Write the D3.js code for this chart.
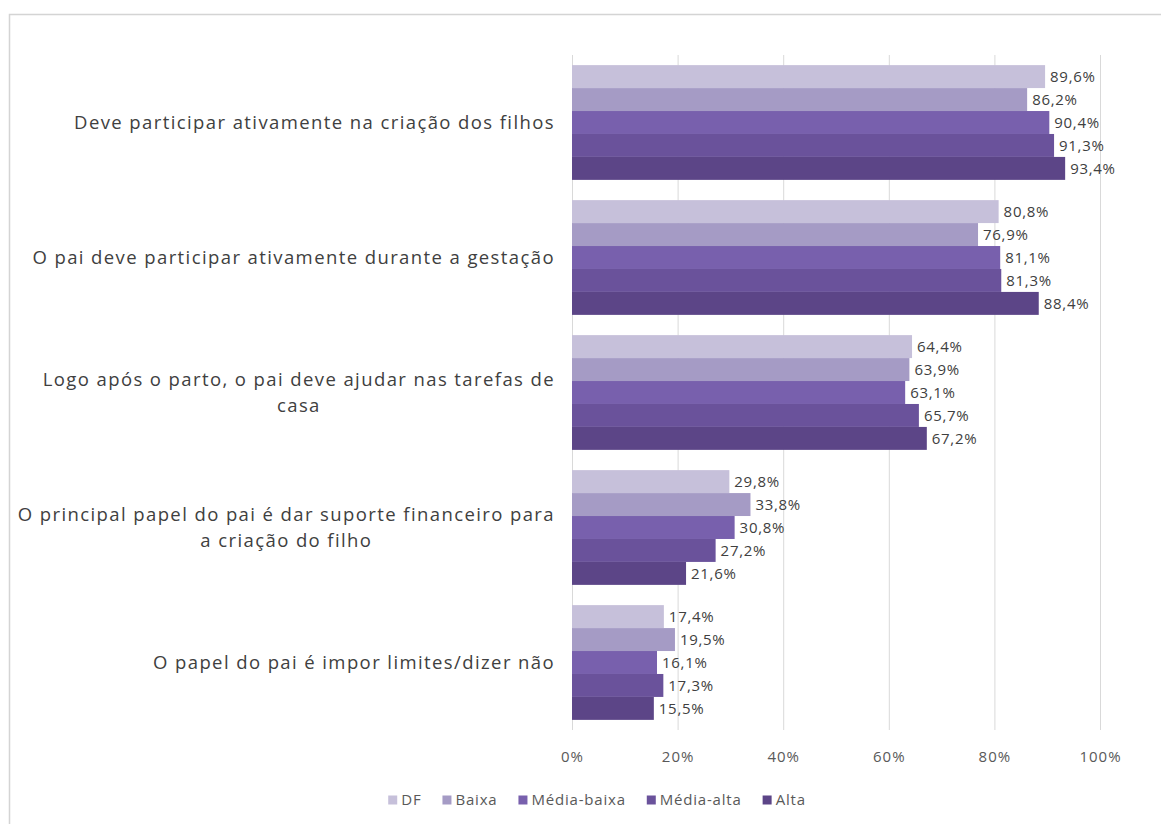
<!DOCTYPE html>
<html>
<head>
<meta charset="utf-8">
<script src="https://cdn.jsdelivr.net/npm/d3@7"></script>
<style>
  html, body { margin: 0; padding: 0; background: #fff; }
  svg { display: block; }
  text { font-family: "Open Sans", Lato, sans-serif; }
</style>
</head>
<body>
<svg id="chart" width="1161" height="824"></svg>
<script>
// Statements (line breaks mark where each label wraps)
const categories = [
  "Deve participar ativamente na criação dos filhos",
  "O pai deve participar ativamente durante a gestação",
  "Logo após o parto, o pai deve ajudar nas tarefas de\ncasa",
  "O principal papel do pai é dar suporte financeiro para\na criação do filho",
  "O papel do pai é impor limites/dizer não"
];

const seriesNames = ["DF", "Baixa", "Média-baixa", "Média-alta", "Alta"];

// Percent agreeing, one array per group, in category order
const valuesDF         = [89.6, 80.8, 64.4, 29.8, 17.4];
const valuesBaixa      = [86.2, 76.9, 63.9, 33.8, 19.5];
const valuesMediaBaixa = [90.4, 81.1, 63.1, 30.8, 16.1];
const valuesMediaAlta  = [91.3, 81.3, 65.7, 27.2, 17.3];
const valuesAlta       = [93.4, 88.4, 67.2, 21.6, 15.5];

const seriesValues = [valuesDF, valuesBaixa, valuesMediaBaixa, valuesMediaAlta, valuesAlta];
const colors = ["#c6c0da", "#a59bc5", "#7860ad", "#6a529b", "#5c4587"];

const xTicks = [0, 20, 40, 60, 80, 100];
const xTickLabels = ["0%", "20%", "40%", "60%", "80%", "100%"];

const svg = d3.select("#chart");

// Outer frame
svg.append("rect")
  .attr("x", 9.5).attr("y", 14.5)
  .attr("width", 1200).attr("height", 900)
  .attr("fill", "none")
  .attr("stroke", "#d4d4d4")
  .attr("stroke-width", 1.5);

const plot = { left: 572, right: 1100, top: 55, bottom: 730 };

const x = d3.scaleLinear().domain([0, 100]).range([plot.left, plot.right]);
const y = d3.scaleBand().domain(categories).range([plot.top, plot.bottom])
  .paddingInner(0.15).paddingOuter(0.075);
const ySub = d3.scaleBand().domain(seriesNames).range([0, y.bandwidth()]).padding(0);

// Vertical gridlines
svg.append("g").selectAll("line")
  .data(xTicks)
  .join("line")
  .attr("x1", d => x(d) + 0.5).attr("x2", d => x(d) + 0.5)
  .attr("y1", plot.top).attr("y2", plot.bottom)
  .attr("stroke", "#d9d9d9").attr("stroke-width", 1);

// X axis labels
const xAxis = d3.axisBottom(x).tickValues(xTicks)
  .tickFormat((d, i) => xTickLabels[i]).tickSize(0).tickPadding(0);
const xg = svg.append("g").attr("transform", `translate(0, ${plot.bottom + 21})`).call(xAxis);
xg.select(".domain").remove();
xg.selectAll("text")
  .attr("font-size", 15).attr("fill", "#595959")
  .attr("letter-spacing", 1.0)
  .attr("font-family", "'Open Sans', Lato, sans-serif");

// Category labels
const catG = svg.append("g");
categories.forEach(c => {
  const lines = c.split("\n");
  const t = catG.append("text")
    .attr("font-size", 18.5)
    .attr("letter-spacing", 1.4)
    .attr("fill", "#404040")
    .attr("text-anchor", "middle");
  const lh = 26;
  const cy = y(c) + y.bandwidth() / 2 - (lines.length - 1) * lh / 2;
  lines.forEach((ln, i) => {
    t.append("tspan").attr("x", 0).attr("y", cy + i * lh).attr("dy", "0.35em").text(ln);
  });
  // right-align the block, centring each line within it
  const w = t.node().getBBox().width;
  t.selectAll("tspan").attr("x", 555 - w / 2);
});

// Bars
const rows = [];
categories.forEach((c, ci) => {
  seriesNames.forEach((s, si) => {
    rows.push({ cat: c, series: s, value: seriesValues[si][ci], color: colors[si] });
  });
});

svg.append("g").selectAll("rect")
  .data(rows)
  .join("rect")
  .attr("x", x(0))
  .attr("y", d => y(d.cat) + ySub(d.series))
  .attr("width", d => x(d.value) - x(0))
  .attr("height", ySub.bandwidth())
  .attr("fill", d => d.color);

// Value labels
svg.append("g").selectAll("text")
  .data(rows)
  .join("text")
  .attr("x", d => x(d.value) + 5)
  .attr("y", d => y(d.cat) + ySub(d.series) + ySub.bandwidth() / 2)
  .attr("dy", "0.35em")
  .attr("font-size", 15)
  .attr("letter-spacing", 0.7)
  .attr("fill", "#404040")
  .text(d => d.value.toFixed(1).replace(".", ",") + "%");

// Legend
const legend = svg.append("g");
let lx = 0;
seriesNames.forEach((s, i) => {
  const g = legend.append("g").attr("transform", `translate(${lx},0)`);
  g.append("rect").attr("x", 0).attr("y", -4.5).attr("width", 9).attr("height", 9).attr("fill", colors[i]);
  const t = g.append("text").attr("x", 13).attr("dy", "0.35em")
    .attr("font-size", 15).attr("letter-spacing", 0.8)
    .attr("fill", "#595959").text(s);
  const w = t.node().getComputedTextLength();
  lx += 13 + w + 21;
});
const legendWidth = lx - 21;
legend.attr("transform", `translate(${597 - legendWidth / 2}, 800)`);
</script>
</body>
</html>
